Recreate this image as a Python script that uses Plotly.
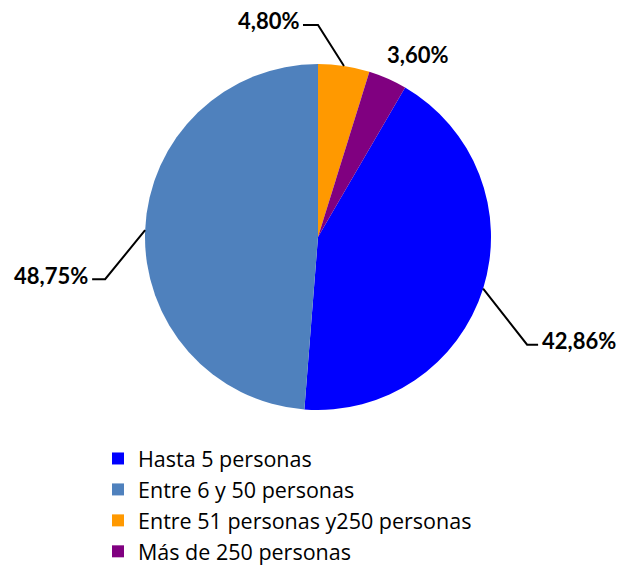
import math
import plotly.graph_objects as go

labels = ["Hasta 5 personas", "Entre 6 y 50 personas",
          "Entre 51 personas y250 personas", "Más de 250 personas"]
values = [42.86, 48.75, 4.80, 3.60]
colors = ["#0000FF", "#4F81BD", "#FF9900", "#800080"]

W, H = 622, 568
# target pie placement in pixels (style)
cx, cy, R = 318, 237, 173

total = sum(values)
# rotate so that the 3rd slice (orange) starts at 12 o'clock, clockwise order
offset = 360 * (values[2] + values[3]) / total

# label leader geometry per slice: (elbow dx, elbow dy, end dx) in px, and text side
leaders = [
    (44, 56, 11, "left"),
    (-40, 49, -13, "right"),
    (-26, -41, -15, "right"),
    None,
]

def fx(x):
    return x / W

def fy(y):
    return 1 - y / H

fig = go.Figure(go.Pie(
    labels=labels, values=values, sort=False, direction="clockwise",
    rotation=offset, marker=dict(colors=colors, line=dict(width=0)),
    textinfo="none", hoverinfo="label+percent",
    domain=dict(x=[fx(cx - R), fx(cx + R)], y=[fy(cy + R), fy(cy - R)]),
))

shapes = []
annotations = []
start = offset
for v, ld in zip(values, leaders):
    ang = 360 * v / total
    mid = (start + ang / 2) % 360
    start += ang
    ex = cx + R * math.sin(math.radians(mid))
    ey = cy - R * math.cos(math.radians(mid))
    txt = f"{v:.2f}".replace(".", ",") + "%"
    if ld is None:
        tx, ty, anchor = ex + 30, ey - 24, "center"
    else:
        dx1, dy1, dx2, anchor = ld
        bx, by = ex + dx1, ey + dy1
        qx, qy = bx + dx2, by
        shapes.append(dict(
            type="path", xref="paper", yref="paper",
            path=f"M {fx(ex)} {fy(ey)} L {fx(bx)} {fy(by)} L {fx(qx)} {fy(qy)}",
            line=dict(color="black", width=2)))
        tx = qx + (2 if anchor == "left" else -2)
        ty = qy - 4
    annotations.append(dict(
        x=fx(tx), y=fy(ty), xref="paper", yref="paper", text=f"<b>{txt}</b>",
        showarrow=False, xanchor=anchor, yanchor="middle",
        font=dict(size=22, color="black", family="Lato")))

fig.update_layout(
    width=W, height=H, margin=dict(l=0, r=0, t=0, b=0, autoexpand=False),
    paper_bgcolor="white", plot_bgcolor="white",
    shapes=shapes, annotations=annotations,
    showlegend=True,
    legend=dict(x=fx(98), y=fy(572), xanchor="left", yanchor="bottom",
                font=dict(size=21.5, color="black", family="Open Sans"),
                traceorder="normal", itemwidth=30, tracegroupgap=0),
    font=dict(family="Lato"),
)

fig.write_html("out.html", config={"displayModeBar": False},
               post_script="document.body.style.margin='0';")
